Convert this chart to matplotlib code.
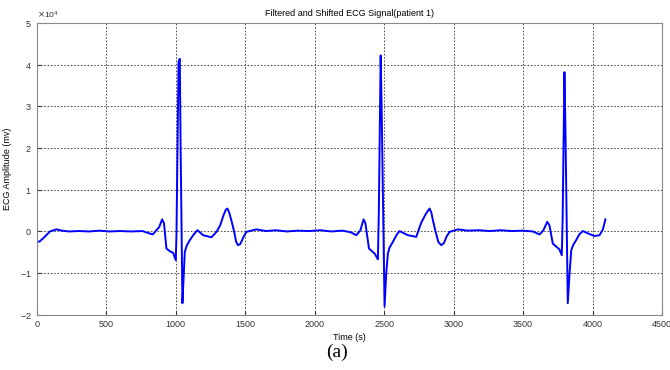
import numpy as np
import matplotlib.pyplot as plt
from matplotlib.ticker import ScalarFormatter

# ECG trace (time in samples, amplitude in units of 1e4)
time = [0, 20, 50, 95, 140, 180, 230, 300, 380, 450, 520, 600, 680, 760, 813, 835, 860, 880, 902, 915,
        933, 960, 981, 1000, 1005, 1020, 1029, 1035, 1048, 1058, 1065, 1080, 1101, 1130, 1156, 1197,
        1257, 1293, 1320, 1345, 1360, 1372, 1385, 1400, 1420, 1435, 1448, 1465, 1485, 1508, 1580,
        1650, 1720, 1800, 1880, 1960, 2040, 2120, 2200, 2260,
        2300, 2329, 2352, 2365, 2391, 2432, 2455, 2462, 2475, 2482, 2503, 2515, 2527, 2540, 2563,
        2590, 2611, 2671, 2731, 2767, 2800, 2827, 2840, 2851, 2870, 2890, 2911, 2930, 2950, 2971,
        3031, 3100, 3180, 3260, 3340, 3420, 3500, 3570,
        3619, 3645, 3674, 3690, 3714, 3762, 3779, 3785, 3798, 3805, 3822, 3835, 3847, 3860, 3882,
        3905, 3930, 3970, 4014, 4050, 4075, 4093]
amp = [-0.25, -0.24, -0.15, 0.0, 0.05, 0.02, 0.0, 0.01, 0.0, 0.02, 0.0, 0.01, 0.0, 0.01, -0.05, -0.07,
       0.03, 0.1, 0.29, 0.2, -0.41, -0.48, -0.51, -0.69, -0.1, 4.05, 4.14, 2.0, -1.72, -1.0, -0.49,
       -0.33, -0.21, -0.07, 0.03, -0.09, -0.14, -0.01, 0.15, 0.40, 0.52, 0.55, 0.45, 0.27, 0.0,
       -0.25, -0.33, -0.30, -0.15, -0.01, 0.05,
       0.01, 0.03, 0.0, 0.02, 0.01, 0.03, 0.0, 0.02, -0.02,
       -0.09, 0.03, 0.29, 0.2, -0.41, -0.53, -0.67, 0.5, 4.22, 3.0, -1.80, -1.0, -0.53, -0.38,
       -0.25, -0.08, 0.01, -0.09, -0.13, 0.21, 0.42, 0.55, 0.45, 0.27, 0.0, -0.25, -0.33, -0.28,
       -0.12, -0.01, 0.05, 0.02, 0.03, 0.01, 0.03, 0.01, 0.02, 0.0,
       -0.07, 0.02, 0.23, 0.15, -0.29, -0.43, -0.57, 0.3, 3.82, 2.5, -1.72, -1.0, -0.45, -0.33,
       -0.21, -0.07, 0.01, -0.05, -0.11, -0.09, 0.05, 0.29]

time = np.array(time)
amp = np.array(amp) * 1e4

plt.rcParams['font.family'] = ['Liberation Sans', 'DejaVu Sans']

fig = plt.figure(figsize=(6.7, 3.7), dpi=100)
ax = fig.add_axes([0.055, 0.149, 0.933, 0.789])

ax.plot(time, amp, color='#0000ff', linewidth=1.4)

ax.set_xlim(0, 4500)
ax.set_ylim(-2e4, 5e4)
ax.set_xticks(np.arange(0, 4501, 500))
ax.set_yticks(np.arange(-2e4, 5.01e4, 1e4))

fmt = ScalarFormatter(useMathText=True)
fmt.set_powerlimits((0, 0))
ax.yaxis.set_major_formatter(fmt)
ax.yaxis.get_offset_text().set_fontsize(6)

ax.grid(True, linestyle=(0, (2, 2)), color='#333333', linewidth=0.6)
ax.tick_params(direction='in', labelsize=6.5, length=3, colors='#333333')
for s in ax.spines.values():
    s.set_color('#888888')

ax.set_title('Filtered and Shifted ECG Signal(patient 1)', fontsize=6.5, pad=5)
ax.set_xlabel('Time (s)', fontsize=6.5, labelpad=3)
ax.set_ylabel('ECG Amplitude (mv)', fontsize=6.5, labelpad=6)

fig.text(0.503, 0.035, '(a)', fontsize=14, family='Liberation Serif', ha='center')

fig.savefig('out.png', dpi=100)
